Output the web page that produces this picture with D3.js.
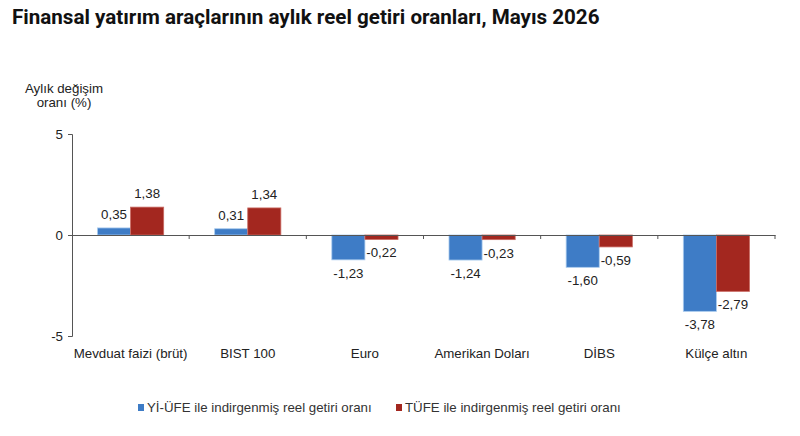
<!DOCTYPE html>
<html>
<head>
<meta charset="utf-8">
<script src="https://cdn.jsdelivr.net/npm/d3@7"></script>
<style>
  body { margin: 0; background: #fff; }
  svg { display: block; }
</style>
</head>
<body>
<div id="chart"></div>
<script>
// Veriler
const categories = ["Mevduat faizi (brüt)", "BIST 100", "Euro", "Amerikan Doları", "DİBS", "Külçe altın"];
const yiUfe = [0.35, 0.31, -1.23, -1.24, -1.60, -3.78];
const tufe = [1.38, 1.34, -0.22, -0.23, -0.59, -2.79];
const seriesNames = ["Yİ-ÜFE ile indirgenmiş reel getiri oranı", "TÜFE ile indirgenmiş reel getiri oranı"];
const yTicks = [5, 0, -5];

const width = 800, height = 436;
const colors = ["#3e7cc6", "#a3271f"];
const strokes = ["#a9cbee", "#c96a62"];
const fs = "13.3px";

const svg = d3.select("#chart").append("svg")
    .attr("width", width)
    .attr("height", height)
    .style("font-family", "'Liberation Sans', Arial, sans-serif");

const x = d3.scaleBand().domain(categories).range([72, 775]);
const xs = d3.scaleBand().domain([0, 1]).range([0, x.bandwidth()]).paddingOuter(0.77).paddingInner(0);
const y = d3.scaleLinear().domain([-5, 5]).range([336, 134]);
const fmt = v => d3.format(".2f")(v).replace(".", ",").replace("\u2212", "-");

// Başlık
svg.append("text")
    .attr("x", 12).attr("y", 24)
    .style("font-family", "Roboto, sans-serif")
    .style("font-size", "20.6px")
    .style("font-weight", "bold")
    .attr("fill", "#111")
    .text("Finansal yatırım araçlarının aylık reel getiri oranları, Mayıs 2026");

// Eksen başlığı
svg.append("text")
    .attr("x", 64).attr("y", 93)
    .attr("text-anchor", "middle")
    .style("font-size", fs).attr("fill", "#222")
    .selectAll("tspan")
    .data(["Aylık değişim", "oranı (%)"])
    .join("tspan")
    .attr("x", 64)
    .attr("dy", (d, i) => i ? 14 : 0)
    .text(d => d);

// Y ekseni
const yAxis = svg.append("g")
    .attr("transform", "translate(72,0)")
    .call(d3.axisLeft(y).tickValues(yTicks).tickSize(4).tickFormat(d => d));
yAxis.attr("font-family", null);
yAxis.select(".domain").attr("stroke", "#555");
yAxis.selectAll(".tick line").attr("stroke", "#555");
yAxis.selectAll(".tick text").style("font-size", fs).attr("fill", "#222").attr("x", -9);

// Barlar
const series = [yiUfe, tufe];
const group = svg.append("g");
series.forEach((vals, s) => {
    group.selectAll(".bar" + s)
        .data(categories)
        .join("rect")
        .attr("x", (c) => x(c) + xs(s))
        .attr("width", xs.bandwidth())
        .attr("y", (c, i) => y(Math.max(0, vals[i])))
        .attr("height", (c, i) => Math.abs(y(vals[i]) - y(0)))
        .attr("fill", colors[s])
        .attr("stroke", strokes[s])
        .attr("stroke-width", 0.8);

    group.selectAll(".lab" + s)
        .data(categories)
        .join("text")
        .attr("x", (c) => x(c) + xs(s) + xs.bandwidth() / 2)
        .attr("y", (c, i) => vals[i] >= 0 ? y(vals[i]) - 9 : y(vals[i]) + 18)
        .attr("text-anchor", "middle")
        .style("font-size", fs)
        .attr("fill", "#222")
        .text((c, i) => fmt(vals[i]));
});

// X ekseni (sıfır çizgisi)
const xAxis = svg.append("g")
    .attr("transform", `translate(0,${y(0)})`)
    .call(d3.axisBottom(x).tickSize(0).tickFormat(""));
xAxis.select(".domain").attr("stroke", "#555");
svg.append("g").selectAll("line")
    .data(categories)
    .join("line")
    .attr("x1", c => x(c) + x.bandwidth()).attr("x2", c => x(c) + x.bandwidth())
    .attr("y1", y(0)).attr("y2", y(0) + 4)
    .attr("stroke", "#555");

// Kategori etiketleri
svg.append("g").selectAll("text")
    .data(categories)
    .join("text")
    .attr("x", c => x(c) + x.bandwidth() / 2)
    .attr("y", 358)
    .attr("text-anchor", "middle")
    .style("font-size", fs)
    .attr("fill", "#222")
    .text(c => c);

// Lejant
const legendX = [138, 396];
seriesNames.forEach((n, i) => {
    const g = svg.append("g").attr("transform", `translate(${legendX[i]},412)`);
    g.append("rect").attr("x", 0).attr("y", -8).attr("width", 6).attr("height", 7).attr("fill", colors[i]);
    g.append("text").attr("x", 9).attr("y", 0)
        .style("font-size", fs).attr("fill", "#333")
        .text(n);
});
</script>
</body>
</html>
